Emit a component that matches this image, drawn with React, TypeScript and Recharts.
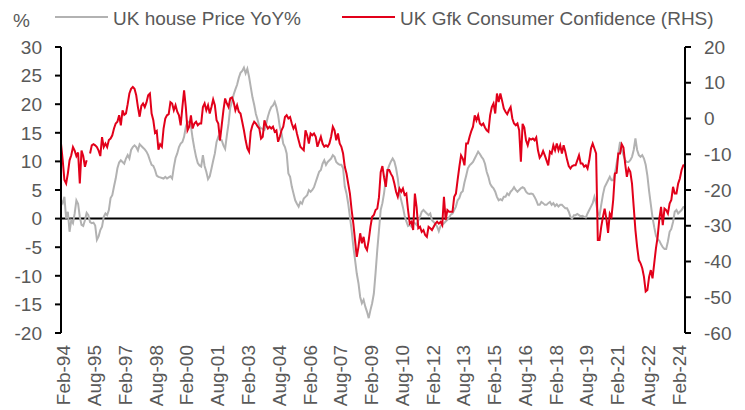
import React from "react";
import {
  LineChart,
  Line,
  XAxis,
  YAxis,
  ReferenceLine,
} from "recharts";

// Nationwide-style house price YoY %, monthly from Feb-94
const housePrice = [
  3.2, 2.7, 3.8, 0.0, 1.2, -2.3, -0.3, -0.8, 0.9, 3.2, 2.6, 0.3,
  -1.1, -1.3, -0.3, 1.0, 0.6, -0.6, -0.8, -0.7, -1.2, -3.7, -3.1, -2.0,
  -1.4, 0.3, 0.9, 0.6, 1.5, 3.6, 4.1, 5.6, 7.0, 8.8, 9.8, 10.2,
  9.9, 9.6, 10.5, 11.1, 10.5, 12.0, 12.5, 12.8, 12.5, 11.9, 13.0, 12.7,
  12.4, 12.1, 11.7, 11.1, 10.2, 9.4, 9.2, 8.5, 7.5, 7.3, 7.2, 7.1,
  7.0, 7.3, 7.0, 7.2, 7.4, 7.0, 9.0, 10.6, 11.4, 12.5, 13.1, 13.4,
  14.3, 16.0, 17.0, 16.8, 16.2, 14.0, 12.3, 10.8, 9.7, 9.3, 9.1, 11.1,
  9.2, 8.2, 6.9, 7.4, 8.7, 10.1, 11.4, 13.4, 14.3, 13.7, 13.7, 12.8,
  12.2, 14.5, 16.6, 19.4, 20.4, 21.7, 22.6, 23.4, 24.6, 25.5, 25.8, 26.4,
  25.4, 26.2, 24.8, 23.0, 21.2, 19.9, 18.3, 17.3, 16.1, 15.8, 15.7, 15.5,
  16.5, 17.8, 18.8, 19.5, 19.8, 20.4, 19.5, 18.1, 16.0, 14.9, 13.1, 12.5,
  11.4, 7.9, 7.3, 5.6, 4.4, 3.2, 2.6, 2.1, 2.9, 2.6, 3.5, 3.8,
  4.1, 5.0, 4.7, 5.0, 5.5, 6.4, 7.3, 8.2, 8.5, 9.6, 10.2, 9.4,
  9.9, 10.2, 10.5, 11.1, 10.8, 9.9, 9.6, 9.4, 9.4, 8.8, 5.6, 4.4,
  2.6, 0.3, -2.0, -4.9, -7.2, -9.6, -11.3, -13.7, -14.8, -14.2, -15.4, -16.3,
  -17.4, -16.0, -14.8, -13.1, -9.5, -5.5, -2.0, 1.5, 2.7, 4.5, 7.0, 8.5,
  9.3, 10.0, 10.5, 10.0, 8.8, 7.0, 4.5, 3.2, 2.0, 0.5, -0.5, -1.3,
  -1.1, -1.4, -0.6, -0.8, -1.1, -0.3, 0.3, 1.2, 1.5, 1.2, 0.9, 0.6,
  0.9, -0.3, -0.6, -0.9, -1.4, -2.2, -1.3, -1.1, -0.8, -0.5, -0.2, 0.2,
  0.7, 0.9, 1.5, 2.1, 3.2, 3.6, 4.5, 4.8, 6.3, 7.5, 8.8, 9.3,
  9.6, 9.9, 10.5, 11.1, 11.7, 11.3, 10.8, 10.4, 9.6, 8.2, 7.3, 6.1,
  5.6, 5.3, 4.7, 3.8, 3.2, 3.4, 3.2, 3.8, 3.8, 4.4, 4.1, 4.7,
  5.0, 5.5, 5.0, 4.7, 5.0, 5.3, 5.5, 5.3, 4.7, 4.4, 4.3, 4.4,
  4.3, 3.8, 3.2, 2.4, 2.4, 2.9, 2.7, 2.4, 2.4, 2.7, 2.9, 2.4,
  2.7, 2.2, 2.5, 2.1, 2.4, 2.4, 2.1, 1.8, 1.8, 1.2, 0.3, 0.0,
  0.6, 0.6, 0.8, 0.6, 0.4, 0.5, 0.3, 0.2, 0.9, 1.5, 2.1, 2.7,
  3.8, 2.7, 1.0, 0.5, 2.4, 4.2, 5.5, 6.1, 6.7, 7.3, 6.7, 6.7,
  7.9, 9.6, 11.4, 13.4, 12.0, 11.1, 10.2, 9.9, 9.9, 10.2, 10.8, 12.0,
  14.0, 12.0, 11.1, 10.8, 11.1, 10.5, 9.4, 7.5, 4.8, 2.5, 0.2, -1.5,
  -3.0, -3.6, -3.9, -4.5, -5.0, -5.3, -5.3, -4.0, -2.3, -1.8, -0.6, 1.2,
  1.5, 0.9, 1.2, 1.5, 2.0, 2.1,
];

// GfK consumer confidence (right axis), monthly from Feb-94
const consumerConfidence = [
  -7.0, -11.7, -17.2, -18.2, -15.4, -11.7, -10.3, -8.0, -9.0, -10.5, -9.5, -18.2,
  -9.0, -10.5, -13.5, -11.7, null, -9.8, -7.5, -7.2, -7.5, -8.0, -9.0, -10.5,
  -5.2, -8.0, -7.0, -8.0, -6.0, -5.6, -4.7, -2.8, -1.4, -0.9, 0.9, -1.9,
  2.3, 1.0, 1.4, 4.0, 7.0, 8.3, 8.8, 8.3, 6.5, 3.2, 0.5, 3.5,
  4.2, 3.2, 4.5, 6.5, 7.0, 1.4, -0.5, -4.0, -3.5, -8.7, -7.2, -7.9,
  -2.8, 0.0, 0.9, 1.2, 4.6, 4.2, 2.3, 3.7, 1.9, 0.9, -1.9, 3.2,
  7.9, 3.2, -3.3, -2.3, 0.9, -2.8, -1.4, -0.9, -1.9, -1.4, -1.4, 3.2,
  4.2, 2.3, 3.7, 1.4, 3.2, 5.3, 3.7, -0.5, -1.4, -6.1, -1.9, 2.3,
  5.6, 4.2, 3.2, 5.6, 5.9, 4.6, 2.3, 3.7, 1.9, 1.4, -0.9, -3.3,
  -6.1, -8.4, -9.3, -3.7, -1.9, -0.9, -1.4, -2.2, -2.8, -5.6, -5.1, -0.5,
  -1.9, -2.8, -2.3, -2.8, -2.3, -3.7, -3.3, -6.5, -5.1, -3.3, -2.3, 0.4,
  0.9, 0.0, 0.4, -1.4, -2.8, -1.9, -4.2, -6.1, -7.9, -8.4, -8.9, -3.3,
  -4.7, -7.0, -4.2, -4.7, -4.2, -5.1, -7.9, -6.5, -5.1, -7.0, -7.9, -7.5,
  -7.9, -7.0, -5.1, -2.3, -3.3, -6.1, -4.2, -7.0, -7.9, -9.8, -13.5, -15.4,
  -18.2, -21.0, -25.6, -29.4, -34.0, -38.7, -35.9, -32.1, -34.9, -33.1, -35.9, -36.8,
  -34.0, -30.3, -27.5, -27.0, -25.6, -25.2, -22.0, -15.0, -13.3, -16.5, -19.1, -14.4,
  -14.4, -15.5, -16.3, -18.2, -20.5, -21.9, -19.6, -20.5, -19.6, -21.4, -21.0, -25.6,
  -29.4, -28.9, -31.2, -21.0, -24.8, -30.7, -30.3, -31.7, -31.2, -32.6, -33.1, -30.3,
  -30.7, -31.2, -30.3, -29.4, -28.9, -29.4, -28.9, -29.8, -21.9, -28.4, -25.6, -26.1,
  -26.1, -26.1, -21.9, -21.0, -17.2, -13.5, -10.3, -11.2, -13.1, -7.0, -7.0, -5.1,
  -3.5, -2.3, 0.9, -0.5, 0.9, -1.4, -1.9, -1.4, -2.5, -3.3, -3.7, 0.9,
  3.2, 4.2, 1.4, 7.0, 4.6, 7.0, 5.0, 2.8, 1.9, 1.2, 2.3, 3.2,
  0.0, -1.4, -1.9, -1.4, -3.3, -12.1, -1.5, -2.5, -6.1, -7.5, -5.6, -5.9,
  -5.6, -6.1, -5.3, -8.9, -11.0, -10.3, -9.1, -10.3, -11.7, -13.1, -9.3, -9.8,
  -7.5, -8.9, -7.0, -8.9, -7.5, -9.8, -7.5, -9.3, -11.5, -13.3, -14.0, -13.3,
  -13.1, -13.1, -11.7, -10.3, -12.6, -12.6, -13.5, -13.1, -14.0, -11.7, -8.4, -7.0,
  -8.4, -9.8, -34.0, -34.0, -30.3, -27.5, -25.2, -28.0, -32.0, -26.6, -27.5, -22.8,
  -15.4, -15.2, -9.8, -9.8, -7.2, -8.1, -12.6, -16.3, -14.0, -14.9, -18.2, -24.7,
  -31.2, -35.9, -39.6, -40.5, -41.9, -44.3, -48.4, -48.0, -44.3, -42.4, -44.7, -40.5,
  -36.3, -33.1, -28.0, -24.7, -29.8, -25.2, -25.6, -26.6, -23.8, -22.8, -19.1, -21.0,
  -21.0, -18.2, -16.8, -14.4, -13.1, -13.0,
];

const leftTicks = [-20, -15, -10, -5, 0, 5, 10, 15, 20, 25, 30];
const rightTicks = [-60, -50, -40, -30, -20, -10, 0, 10, 20];

const MONTH_NAMES = ["Jan", "Feb", "Mar", "Apr", "May", "Jun", "Jul", "Aug", "Sep", "Oct", "Nov", "Dec"];

// month labels, starting Feb-94
const monthLabels = housePrice.map((_, i) => {
  const m = (1 + i) % 12;
  const y = 1994 + Math.floor((1 + i) / 12);
  return `${MONTH_NAMES[m]}-${String(y % 100).padStart(2, "0")}`;
});

const data = monthLabels.map((month, i) => ({
  month,
  house: housePrice[i],
  gfk: consumerConfidence[i],
}));

const FONT = "'Liberation Sans', Arial, sans-serif";
const TEXT = "#595959";
const RED = "#E2001A";
const GREY = "#B2B2B2";

// rotated month label, nudged a little right like the original
const XTick = (props: any) => {
  const { x, y, payload } = props;
  const tx = x + 2.5;
  return (
    <text
      x={tx}
      y={y}
      transform={`rotate(-90 ${tx} ${y})`}
      textAnchor="end"
      dy="0.36em"
      fill={TEXT}
      fontSize={19}
      fontFamily={FONT}
    >
      {payload.value}
    </text>
  );
};

export default function App() {
  return (
    <div style={{ position: "absolute", left: 0, top: 0, width: 745, height: 410, background: "#fff" }}>
      <LineChart
        width={745}
        height={410}
        data={data}
        margin={{ top: 47, right: 5, bottom: 7, left: 6 }}
      >
        <XAxis
          dataKey="month"
          interval={17}
          axisLine={false}
          tickLine={false}
          tickSize={0}
          tickMargin={12}
          height={70}
          tick={<XTick />}
        />
        <YAxis
          yAxisId="left"
          domain={[-20, 30]}
          ticks={leftTicks}
          interval={0}
          width={55}
          axisLine={{ stroke: "#000", strokeWidth: 2 }}
          tickLine={{ stroke: "#000", strokeWidth: 2 }}
          tickSize={6}
          tickMargin={13}
          tick={{ fill: TEXT, fontSize: 19, fontFamily: FONT }}
        />
        <YAxis
          yAxisId="right"
          orientation="right"
          domain={[-60, 20]}
          ticks={rightTicks}
          interval={0}
          width={55}
          axisLine={{ stroke: "#000", strokeWidth: 2 }}
          tickLine={{ stroke: "#000", strokeWidth: 2 }}
          tickSize={6}
          tickMargin={13}
          tick={{ fill: TEXT, fontSize: 19, fontFamily: FONT, textAnchor: "start" }}
        />
        <ReferenceLine yAxisId="left" y={0} stroke="#000" strokeWidth={2} />
        <Line
          yAxisId="left"
          type="linear"
          dataKey="house"
          stroke={GREY}
          strokeWidth={2}
          dot={false}
          isAnimationActive={false}
        />
        <Line
          yAxisId="right"
          type="linear"
          dataKey="gfk"
          stroke={RED}
          strokeWidth={2}
          dot={false}
          connectNulls={false}
          isAnimationActive={false}
        />
      </LineChart>
      {/* legend and unit label */}
      <svg
        width={745}
        height={40}
        style={{ position: "absolute", left: 0, top: 0 }}
        fontFamily={FONT}
        fontSize={19}
      >
        <text x={13} y={27} fill={TEXT}>%</text>
        <line x1={55} x2={108} y1={17} y2={17} stroke={GREY} strokeWidth={2} />
        <text x={113} y={25} fill={TEXT}>UK house Price YoY%</text>
        <line x1={342} x2={395} y1={17} y2={17} stroke={RED} strokeWidth={2} />
        <text x={400} y={25} fill={TEXT}>UK Gfk Consumer Confidence (RHS)</text>
      </svg>
    </div>
  );
}
